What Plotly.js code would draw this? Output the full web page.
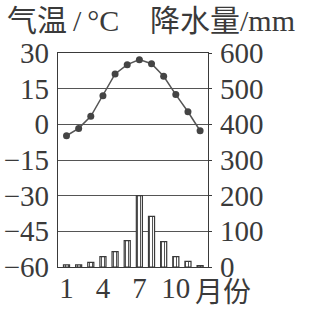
<!DOCTYPE html>
<html>
<head>
<meta charset="utf-8">
<script src="https://cdn.plot.ly/plotly-3.0.1.min.js"></script>
<style>html,body{margin:0;padding:0;background:#fff;}#chart{width:321px;height:311px;}</style>
</head>
<body>
<div id="chart"></div>
<script>
var months = [1,2,3,4,5,6,7,8,9,10,11,12];
var temperature = [-4.8,-1.7,3.4,12,21.2,25.1,27.2,25.5,20.2,12.5,5.3,-2.7];
var precipitation = [6,6,13,29,43,74,200,142,71,29,16,4];
var xTickVals = [1,4,7,10];
var xTickText = ["1","4","7","10"];
var tempTicks = [30,15,0,-15,-30,-45,-60];
var precTicks = [0,100,200,300,400,500,600];

var ink = '#3a3a3a';
var fam = 'Liberation Serif, "Noto Sans CJK SC", serif';
var font = {family: fam, size: 29, color: ink};

var traces = [
  {
    type: 'bar', x: months, y: precipitation, yaxis: 'y2', width: 0.5,
    marker: {color: '#ffffff', line: {color: ink, width: 1.2},
             pattern: {shape: '|', fgcolor: '#555', bgcolor: '#fff', size: 3, solidity: 0.35}},
    hoverinfo: 'skip'
  },
  {
    type: 'scatter', mode: 'lines+markers', x: months, y: temperature, yaxis: 'y',
    line: {color: '#555', width: 1.5},
    marker: {color: '#444', size: 7}
  }
];

var layout = {
  width: 321, height: 311,
  margin: {l: 58, r: 113, t: 53, b: 44},
  paper_bgcolor: '#fff', plot_bgcolor: '#fff',
  showlegend: false,
  font: font,
  xaxis: {
    range: [0.3, 12.65], tickvals: xTickVals, ticktext: xTickText,
    showgrid: false, zeroline: false, showline: true, mirror: true,
    linecolor: ink, linewidth: 1.2, ticks: '', tickfont: font, ticklabelstandoff: -5
  },
  yaxis: {
    range: [-60, 30], tickvals: tempTicks, showgrid: true, gridcolor: '#555', gridwidth: 1,
    zeroline: false, showline: true, linecolor: ink, linewidth: 1.2, ticks: '',
    tickfont: font, ticklabelstandoff: 2
  },
  yaxis2: {
    range: [0, 600], tickvals: precTicks, overlaying: 'y', side: 'right',
    showgrid: false, zeroline: false, showline: true, linecolor: ink, linewidth: 1.2,
    ticks: 'outside', ticklen: 3, tickcolor: ink, tickfont: font, ticklabelstandoff: 2
  },
  annotations: [
    {text: '气温\u2009/\u2009°C', xref: 'paper', yref: 'paper', x: -0.353, y: 1.24, xanchor: 'left', yanchor: 'top',
     showarrow: false, font: {family: fam, size: 30, color: ink}},
    {text: '降水量/mm', xref: 'paper', yref: 'paper', x: 0.6, y: 1.24, xanchor: 'left', yanchor: 'top',
     showarrow: false, font: {family: fam, size: 30, color: ink}},
    {text: '月份', xref: 'paper', yref: 'paper', x: 0.9, y: -0.005, xanchor: 'left', yanchor: 'top',
     showarrow: false, font: {family: '"Noto Sans CJK SC", serif', size: 28, color: ink}}
  ]
};

Plotly.newPlot('chart', traces, layout, {displayModeBar: false, staticPlot: true});
</script>
</body>
</html>
